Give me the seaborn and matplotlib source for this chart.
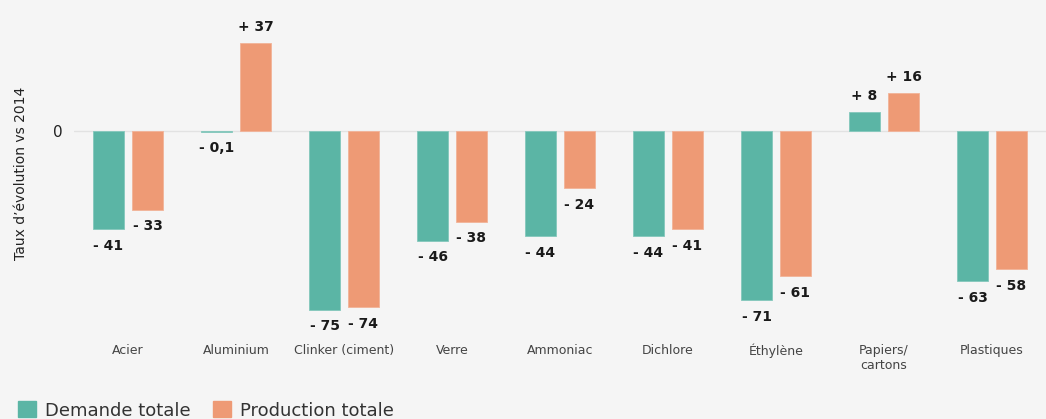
import matplotlib
matplotlib.use('agg')
import matplotlib.pyplot as plt
import matplotlib.colors as mcolors
import pandas as pd
import seaborn as sns

categories = ['Acier', 'Aluminium', 'Clinker (ciment)', 'Verre', 'Ammoniac',
              'Dichlore', 'Éthylène', 'Papiers/\ncartons', 'Plastiques']
demande = [-41, -0.1, -75, -46, -44, -44, -71, 8, -63]
production = [-33, 37, -74, -38, -24, -41, -61, 16, -58]
demande_labels = ['- 41', '- 0,1', '- 75', '- 46', '- 44', '- 44', '- 71', '+ 8', '- 63']
production_labels = ['- 33', '+ 37', '- 74', '- 38', '- 24', '- 41', '- 61', '+ 16', '- 58']
series = ['Demande totale', 'Production totale']
colors = ['#5bb5a5', '#ee9a75']
bg = '#f5f5f5'

sns.set_theme(style='white')
plt.rcParams['font.family'] = ['DejaVu Sans']

df = pd.DataFrame({
    'cat': categories * 2,
    'serie': [series[0]] * len(categories) + [series[1]] * len(categories),
    'val': demande + production,
})

fig = plt.figure(figsize=(10.46, 4.19), dpi=100, facecolor=bg)
ax = fig.add_axes([74 / 1046, 1 - 337 / 419, 972 / 1046, 327 / 419])
ax.set_facecolor(bg)

sns.barplot(data=df, x='cat', y='val', hue='serie', palette=colors,
            width=0.72, gap=0.2, ax=ax, legend=False, saturation=1)

# bordure légèrement plus claire autour des barres
for cont, col in zip(ax.containers, colors):
    light = tuple(0.75 * c + 0.25 for c in mcolors.to_rgb(col))
    for p in cont:
        p.set_edgecolor(light)
        p.set_linewidth(0.6)

ax.bar_label(ax.containers[0], labels=demande_labels, padding=7,
             fontsize=10, fontweight='semibold', color='#1a1a1a')
ax.bar_label(ax.containers[1], labels=production_labels, padding=7,
             fontsize=10, fontweight='semibold', color='#1a1a1a')

ax.set_ylim(-86.5, 51)
ax.set_xlim(-0.5, len(categories) - 0.5)
ax.set_yticks([0])
ax.set_yticklabels(['0'], fontsize=11, color='#222222')
ax.axhline(0, color='#e2e2e2', lw=1, zorder=0)
ax.tick_params(axis='x', labelsize=9, colors='#444444', length=0, pad=5)
ax.tick_params(axis='y', length=0, pad=8)
ax.set_xlabel('')
ax.set_ylabel("Taux d’évolution vs 2014", fontsize=10, color='#222222', labelpad=18)
for s in ax.spines.values():
    s.set_visible(False)

handles = [plt.Rectangle((0, 0), 1, 1, color=c) for c in colors]
fig.legend(handles, series, loc='lower left', bbox_to_anchor=(0.002, -0.04),
           ncol=2, frameon=False, fontsize=13, handlelength=1.0, handleheight=1.0,
           handletextpad=0.5, columnspacing=1.2, labelcolor='#333333')

fig.savefig('out.png', dpi=100, facecolor=bg)
